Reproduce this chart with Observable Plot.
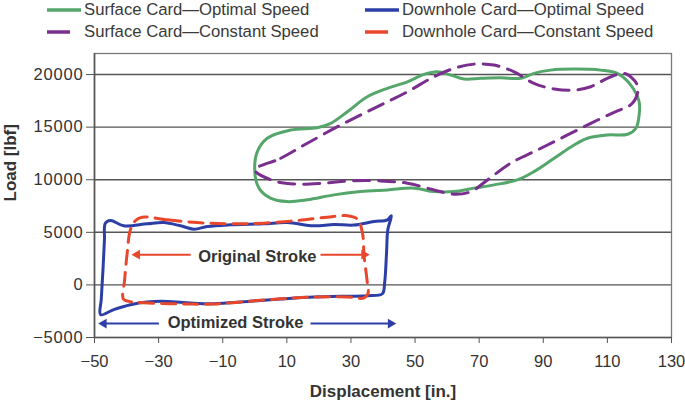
<!DOCTYPE html>
<html><head><meta charset="utf-8">
<script src="https://cdn.jsdelivr.net/npm/d3@7"></script>
<script src="https://cdn.jsdelivr.net/npm/@observablehq/plot@0.6"></script>
<style>
body{margin:0;background:#fff;font-family:"Liberation Sans",Arial,Helvetica,sans-serif;}
#legend{position:relative;width:685px;height:44px;}
.item{position:absolute;display:flex;align-items:center;font-size:16.7px;color:#3a3a3a;white-space:nowrap;height:20px;}
.item svg{margin-right:3px;}
#chart svg{display:block;}
</style></head><body>
<div id="legend"></div>
<div id="chart"></div>
<script>
// Surface card, optimal speed (green, solid)
const surfOptX = [0, 0.8, 3.9, 11.2, 19.5, 23.7, 28.9, 35.1, 41.4, 47.6, 52.8, 57.0, 61.1, 65.3, 70.5, 76.7, 83.0, 87.1, 92.3, 99.6, 107.9, 113.1, 117.3, 119.9, 119.9, 118.9, 116.3, 110.0, 103.8, 99.6, 93.4, 87.1, 81.9, 74.6, 68.4, 62.1, 55.9, 49.7, 41.4, 33.0, 24.7, 16.4, 10.1, 4.9, 1.3];
const surfOptY = [10770, 12670, 13940, 14730, 14950, 15360, 16470, 17890, 18690, 19310, 20010, 20260, 19950, 19570, 19640, 19690, 19640, 20110, 20420, 20520, 20420, 20110, 19000, 17410, 16150, 14890, 14320, 14250, 13940, 13300, 12040, 10770, 9980, 9510, 9200, 8870, 8870, 9200, 9030, 8870, 8560, 8090, 7920, 8250, 9200];
// Surface card, constant speed (purple, dashed)
const surfConX = [0, 8.1, 16.4, 26.8, 37.2, 47.6, 55.9, 62.1, 68.4, 74.6, 80.9, 87.1, 93.4, 99.6, 104.8, 110.0, 115.2, 118.3, 119.6, 117.8, 112.1, 104.8, 96.5, 88.2, 79.8, 72.6, 67.4, 62.1, 55.9, 47.6, 39.3, 29.9, 21.6, 13.3, 6.0];
const surfConY = [10930, 12040, 13470, 15200, 16790, 18360, 19790, 20580, 20990, 20900, 20260, 19160, 18620, 18520, 18840, 19640, 20110, 19470, 18690, 17260, 16410, 15360, 14090, 12830, 11570, 9980, 8870, 8630, 9030, 9670, 9890, 9890, 9670, 9580, 9890];
// Downhole card, optimal speed (blue, solid)
const downOptX = [-46.6, -45.0, -40.9, -33.6, -28.4, -23.2, -19.0, -14.8, -7.6, 2.8, 10.1, 18.4, 24.7, 30.9, 37.2, 41.4, 42.6, 41.5, 41.1, 40.5, 39.8, 35.1, 26.8, 18.4, 8.1, -2.3, -12.8, -20.0, -27.3, -33.6, -38.8, -44.0, -48.1, -47.9, -47.3, -46.9];
const downOptY = [5870, 6120, 5620, 5810, 5930, 5620, 5300, 5550, 5710, 5810, 5930, 5620, 5740, 5690, 6030, 6190, 6570, 5240, 3030, 180, -840, -1030, -1090, -1150, -1340, -1570, -1780, -1720, -1570, -1620, -1880, -2350, -2830, -1400, 1760, 4290];
// Downhole card, constant speed (red, dashed)
const downConX = [-35.1, -27.3, -18.0, -7.6, 2.8, 13.3, 22.6, 28.9, 32.0, 33.6, 34.1, 35.0, 35.3, 34.1, 28.9, 18.4, 8.1, -2.3, -12.8, -23.2, -33.6, -39.3, -41.0, -40.6, -39.8, -38.8, -37.2];
const downConY = [6440, 6190, 5930, 5810, 5870, 6120, 6440, 6570, 6250, 4930, 2710, 490, -840, -1240, -1150, -1150, -1310, -1570, -1810, -1810, -1720, -1570, -1340, 490, 3030, 5240, 6120];

const seriesNames = ["Surface Card\u2014Optimal Speed", "Surface Card\u2014Constant Speed", "Downhole Card\u2014Optimal Speed", "Downhole Card\u2014Constant Speed"];
const seriesColors = ["#55a66b", "#7a2f8f", "#2c3fa6", "#e8472c"];

const xTicks = [-50, -30, -10, 10, 30, 50, 70, 90, 110, 130];
const yTicks = [-5000, 0, 5000, 10000, 15000, 20000];
const xLabel = "Displacement [in.]";
const yLabel = "Load [lbf]";

// annotations
const noteText = ["Original Stroke", "Optimized Stroke"];
const noteX = [0.8, -6.0];
const noteY = [2700, -3620];
const arrowX1 = [-20.0, 20.5, -29.9, 17.4];
const arrowX2 = [-36.7, 34.1, -47.1, 42.4];
const arrowY = [2870, 2870, -3680, -3680];
const arrowSeries = [3, 3, 2, 2];

const zip = (xs, ys) => xs.map((x, i) => ({x, y: ys[i]}));
const surfOpt = zip(surfOptX, surfOptY);
const surfCon = zip(surfConX, surfConY);
const downOpt = zip(downOptX, downOptY);
const downCon = zip(downConX, downConY);
const notes = noteText.map((t, i) => ({t, x: noteX[i], y: noteY[i]}));
const arrows = arrowX1.map((x1, i) => ({x1, x2: arrowX2[i], y: arrowY[i], c: seriesColors[arrowSeries[i]], dir: arrowX2[i] > x1 ? 1 : -1}));

// legend
const legend = document.getElementById("legend");
const legendPos = [[46, 0], [46, 22], [364, 0], [364, 22]];
seriesNames.forEach((name, i) => {
  const div = document.createElement("div");
  div.className = "item";
  div.style.left = legendPos[i][0] + "px";
  div.style.top = legendPos[i][1] + "px";
  const dashed = i % 2 === 1;
  div.innerHTML = `<svg width="35" height="10"><line x1="1" x2="${dashed ? 24 : 35}" y1="5" y2="5" stroke="${seriesColors[i]}" stroke-width="3.5"/></svg><span>${name}</span>`;
  legend.appendChild(div);
});

const fmt = d3.format("d");
const plot = Plot.plot({
  width: 685,
  height: 360,
  marginLeft: 94,
  marginRight: 14,
  marginTop: 9,
  marginBottom: 67,
  style: {fontFamily: "'Liberation Sans', Arial, sans-serif", background: "#fff"},
  x: {domain: [-50, 130], ticks: xTicks, tickFormat: fmt},
  y: {domain: [-5000, 22000], ticks: yTicks, tickFormat: fmt},
  marks: [
    Plot.frame({stroke: "#7a7a7a", strokeWidth: 1.3}),
    Plot.ruleY(yTicks.slice(1), {stroke: "#555", strokeWidth: 1.4}),
    Plot.ruleY([-5000], {stroke: "#555", strokeWidth: 1.6}),
    Plot.ruleX([-50], {stroke: "#555", strokeWidth: 1.6}),
    Plot.axisX({ticks: xTicks, tickFormat: fmt, tickSize: 6, tickPadding: 12, fontSize: 16.5, stroke: "#555", fill: "#333", label: null}),
    Plot.axisY({ticks: yTicks, tickFormat: fmt, tickSize: 8, tickPadding: 3, fontSize: 16.5, stroke: "#555", fill: "#333", label: null}),
    Plot.line(surfOpt, {x: "x", y: "y", curve: "catmull-rom-closed", stroke: seriesColors[0], strokeWidth: 3}),
    Plot.line(surfCon, {x: "x", y: "y", curve: "catmull-rom-closed", stroke: seriesColors[1], strokeWidth: 3, strokeDasharray: "16,9"}),
    Plot.line(downOpt, {x: "x", y: "y", curve: "catmull-rom-closed", stroke: seriesColors[2], strokeWidth: 3}),
    Plot.line(downCon, {x: "x", y: "y", curve: "catmull-rom-closed", stroke: seriesColors[3], strokeWidth: 3, strokeDasharray: "14,8"}),
    Plot.link(arrows, {x1: "x1", x2: "x2", y1: "y", y2: "y", stroke: "c", strokeWidth: 2}),
    Plot.dot(arrows, {x: "x2", y: "y", symbol: "triangle", r: 3.6, fill: "c", stroke: "none", rotate: d => d.dir * 90}),
    Plot.text(notes, {x: "x", y: "y", text: "t", fontSize: 16.5, fontWeight: "bold", fill: "#333"}),
    Plot.text([xLabel], {text: d => d, frameAnchor: "bottom", dy: 59, fontSize: 17, fontWeight: "bold", fill: "#333"}),
    Plot.text([yLabel], {text: d => d, frameAnchor: "left", dx: -84, dy: 6, rotate: -90, fontSize: 17, fontWeight: "bold", fill: "#333"})
  ]
});
document.getElementById("chart").appendChild(plot);
plot.querySelectorAll('[aria-label="y-axis tick label"] text').forEach(t => t.setAttribute("letter-spacing", "0.8"));
</script>
</body></html>
